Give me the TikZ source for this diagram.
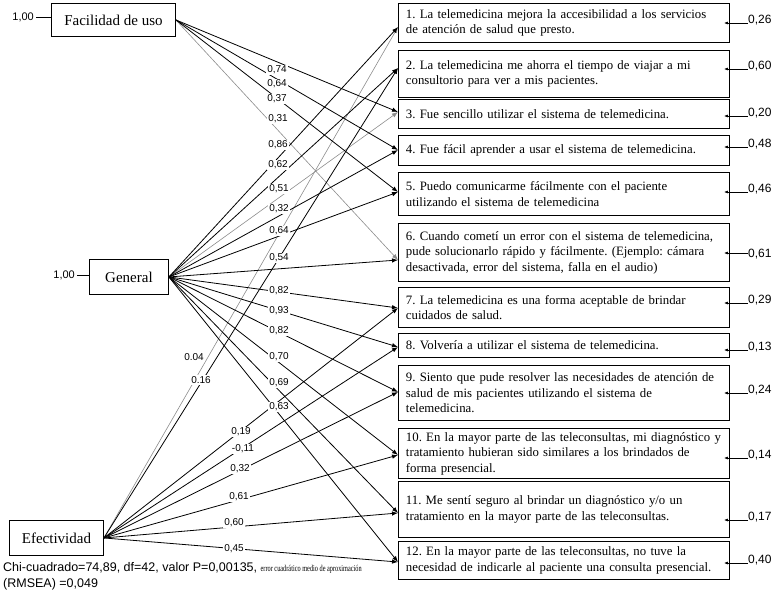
\documentclass[tikz,border=0pt]{standalone}
\usepackage{fontspec}
\setmainfont{Liberation Serif}
\setsansfont{Liberation Sans}
\usepackage{graphicx}
\usetikzlibrary{arrows.meta,calc}
\frenchspacing
\begin{document}
\begin{tikzpicture}[x=1pt,y=-1pt,
  itembox/.style={draw, line width=0.9pt, anchor=north west, minimum width=331pt,
    text width=316pt, inner xsep=7.5pt, inner ysep=1pt, align=left,
    font=\fontsize{12.8}{15.5}\selectfont\frenchspacing},
  factor/.style={draw, line width=0.9pt, anchor=north west, inner sep=0pt,
    font=\fontsize{15}{18}\selectfont},
  coef/.style={font=\sffamily\fontsize{10}{12}\selectfont, fill=white, inner sep=1pt},
  resid/.style={font=\sffamily\fontsize{12}{14}\selectfont, inner sep=0pt, anchor=base west},
  onelab/.style={font=\sffamily\fontsize{11}{13}\selectfont, inner sep=0pt, anchor=east},
  lnk/.style={line width=0.8pt, -{Latex[length=6pt,width=4.5pt]}},
  glnk/.style={lnk, draw=black!45, line width=0.6pt},
  rlnk/.style={line width=0.7pt, -{Latex[length=4pt,width=3pt]}},
  foot/.style={anchor=base west, inner sep=0pt, font=\sffamily\fontsize{12.5}{14}\selectfont}
]
\useasboundingbox (0,0) rectangle (775,592);

% factors
\node[factor, minimum width=124pt, minimum height=33pt] (fac) at (51,3) {Facilidad de uso};
\node[factor, minimum width=79pt, minimum height=35pt] (gen) at (89,259) {General};
\node[factor, minimum width=94pt, minimum height=35pt] (efe) at (9,520) {Efectividad};

\node[onelab] (one1) at (34,17) {1,00};
\node[onelab] (one2) at (75,275) {1,00};
\draw[line width=0.7pt] ([xshift=2pt]one1.east) -- (one1.east -| fac.west);
\draw[line width=0.7pt] ([xshift=2pt]one2.east) -- (one2.east -| gen.west);

% items
\node[itembox, minimum height=39pt] (b1) at (398,3) {1. La telemedicina mejora la accesibilidad a los servicios\\de atención de salud que presto.};
\node[itembox, minimum height=47pt] (b2) at (398,50) {2. La telemedicina me ahorra el tiempo de viajar a mi\\consultorio para ver a mis pacientes.};
\node[itembox, minimum height=29pt] (b3) at (398,99) {3. Fue sencillo utilizar el sistema de telemedicina.};
\node[itembox, minimum height=30pt] (b4) at (398,135) {4. Fue fácil aprender a usar el sistema de telemedicina.};
\node[itembox, minimum height=43pt] (b5) at (398,172) {5. Puedo comunicarme fácilmente con el paciente\\utilizando el sistema de telemedicina};
\node[itembox, minimum height=58pt] (b6) at (398,223) {6. Cuando cometí un error con el sistema de telemedicina,\\pude solucionarlo rápido y fácilmente. (Ejemplo: cámara\\desactivada, error del sistema, falla en el audio)};
\node[itembox, minimum height=40pt] (b7) at (398,287) {7. La telemedicina es una forma aceptable de brindar\\cuidados de salud.};
\node[itembox, minimum height=24pt] (b8) at (398,333) {8. Volvería a utilizar el sistema de telemedicina.};
\node[itembox, minimum height=55pt] (b9) at (398,365) {9. Siento que pude resolver las necesidades de atención de\\salud de mis pacientes utilizando el sistema de\\telemedicina.};
\node[itembox, minimum height=50pt] (b10) at (398,428) {10. En la mayor parte de las teleconsultas, mi diagnóstico y\\tratamiento hubieran sido similares a los brindados de\\forma presencial.};
\node[itembox, minimum height=56pt] (b11) at (398,481) {\makebox[306pt][s]{11. Me sentí seguro al brindar un diagnóstico y/o un}\\tratamiento en la mayor parte de las teleconsultas.};
\node[itembox, minimum height=38pt] (b12) at (398,541) {\makebox[306pt][s]{12. En la mayor parte de las teleconsultas, no tuve la}\\necesidad de indicarle al paciente una consulta presencial.};

% arrow entry points
\coordinate (in1) at (b1.west |- 0,27);
\coordinate (in2) at (b2.west |- 0,68);
\coordinate (in3) at (b3.west |- 0,112);
\coordinate (in4) at (b4.west |- 0,150);
\coordinate (in5) at (b5.west |- 0,192);
\coordinate (in6) at (b6.west |- 0,260);
\coordinate (in7) at (b7.west |- 0,308);
\coordinate (in8) at (b8.west |- 0,347);
\coordinate (in9) at (b9.west |- 0,392);
\coordinate (in10) at (b10.west |- 0,455);
\coordinate (in11) at (b11.west |- 0,513);
\coordinate (in12) at (b12.west |- 0,562);

% gray paths
\draw[glnk] (fac.east) -- (in6);
\draw[glnk] (gen.east) -- (in3);
\draw[glnk] (efe.east) -- (in1);
% black paths
\draw[lnk] (fac.east) -- (in3);
\draw[lnk] (fac.east) -- (in4);
\draw[lnk] (fac.east) -- (in5);
\draw[lnk] (gen.east) -- (in1);
\draw[lnk] (gen.east) -- (in2);
\draw[lnk] (gen.east) -- (in4);
\draw[lnk] (gen.east) -- (in5);
\draw[lnk] (gen.east) -- (in6);
\draw[lnk] (gen.east) -- (in7);
\draw[lnk] (gen.east) -- (in8);
\draw[lnk] (gen.east) -- (in9);
\draw[lnk] (gen.east) -- (in10);
\draw[lnk] (gen.east) -- (in11);
\draw[lnk] (gen.east) -- (in12);
\draw[lnk] (efe.east) -- (in2);
\draw[lnk] (efe.east) -- (in7);
\draw[lnk] (efe.east) -- (in8);
\draw[lnk] (efe.east) -- (in9);
\draw[lnk] (efe.east) -- (in10);
\draw[lnk] (efe.east) -- (in11);
\draw[lnk] (efe.east) -- (in12);

% coefficient labels
\node[coef] (cf1) at (277,70) {0,74};
\node[coef] (cf2) at (277,84) {0,64};
\node[coef] (cf3) at (277,99) {0,37};
\node[coef] (cf4) at (278,119) {0,31};
\node[coef] (cg1) at (278,145) {0,86};
\node[coef] (cg2) at (278,165) {0,62};
\node[coef] (cg3) at (279,189) {0,51};
\node[coef] (cg4) at (279,209) {0,32};
\node[coef] (cg5) at (279,231) {0,64};
\node[coef] (cg6) at (279,258) {0,54};
\node[coef] (cg7) at (279,291) {0,82};
\node[coef] (cg8) at (279,311) {0,93};
\node[coef] (cg9) at (279,331) {0,82};
\node[coef] (cg10) at (279,357) {0,70};
\node[coef] (cg11) at (279,383) {0,69};
\node[coef] (cg12) at (279,407) {0,63};
\node[coef] (ce1) at (194,357) {0.04};
\node[coef] (ce2) at (201,380) {0.16};
\node[coef] (ce7) at (241,432) {0,19};
\node[coef] (ce8) at (243,449) {-0,11};
\node[coef] (ce9) at (240,469) {0,32};
\node[coef] (ce10) at (239,497) {0,61};
\node[coef] (ce11) at (234,523) {0,60};
\node[coef] (ce12) at (234,549) {0,45};

% residuals
\node[resid] (r1) at (748,23) {0,26};
\node[resid] (r2) at (748,69) {0,60};
\node[resid] (r3) at (748,116) {0,20};
\node[resid] (r4) at (748,147) {0,48};
\node[resid] (r5) at (748,192) {0,46};
\node[resid] (r6) at (748,257) {0,61};
\node[resid] (r7) at (748,303) {0,29};
\node[resid] (r8) at (748,350) {0,13};
\node[resid] (r9) at (748,393) {0,24};
\node[resid] (r10) at (748,458) {0,14};
\node[resid] (r11) at (748,520) {0,17};
\node[resid] (r12) at (748,563) {0,40};
\foreach \i in {1,2,3,4,5,7,8,9,10,11,12}{
  \draw[rlnk] (r\i.base west) -- ($(r\i.base west -| b\i.east)+(-6,0)$);
}
\draw[rlnk] ($(r6.base west)+(0,-4)$) -- ($(r6.base west -| b6.east)+(-6,-4)$);

% footer
\node[foot] (ft1) at (3,571) {Chi-cuadrado=74,89, df=42, valor P=0,00135, \scalebox{0.7}[1]{\rmfamily\fontsize{9}{10}\selectfont error cuadrático medio de aproximación}};
\node[foot] (ft2) at (3,587) {(RMSEA) =0,049};
\end{tikzpicture}
\end{document}
